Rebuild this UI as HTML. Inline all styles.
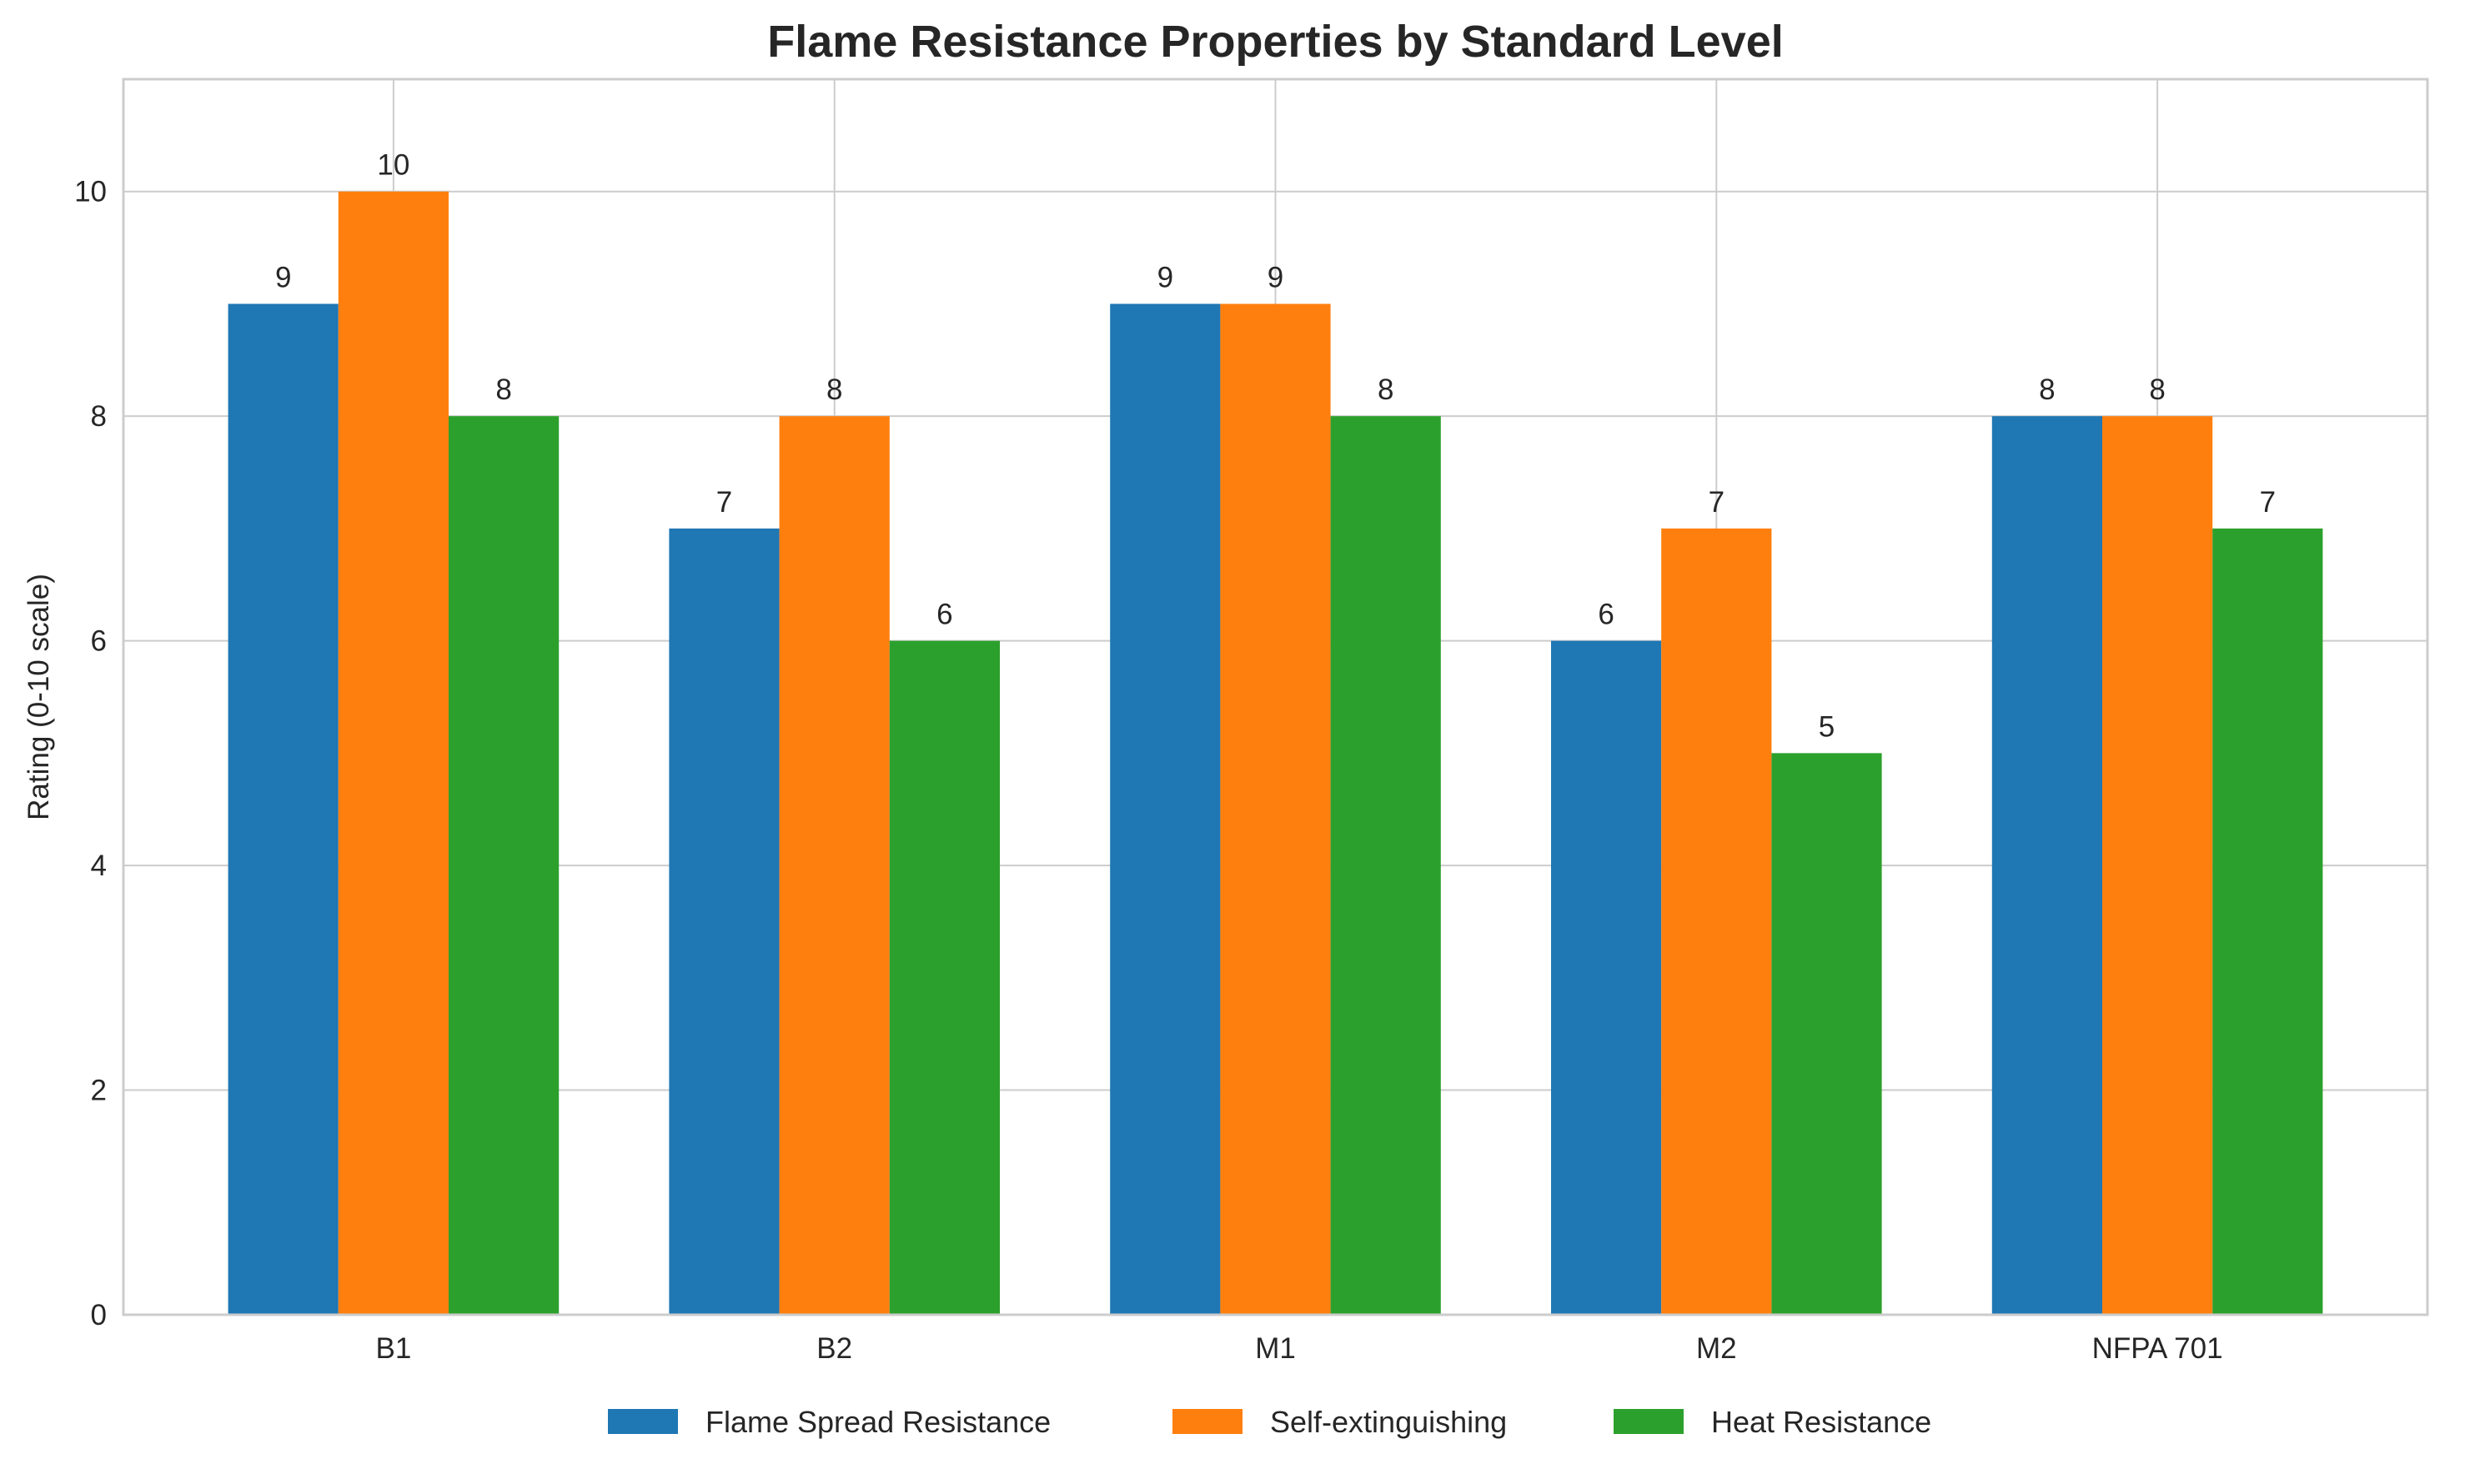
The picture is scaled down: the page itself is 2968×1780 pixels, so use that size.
<!DOCTYPE html>
<html><head><meta charset="utf-8"><style>body{margin:0;background:#fff}svg text{font-family:"Liberation Sans",sans-serif;fill:#262626}</style></head>
<body>
<svg id="c" width="2968" height="1775" xmlns="http://www.w3.org/2000/svg"></svg>
<script>
const categories=["B1","B2","M1","M2","NFPA 701"];
const flameSpread=[9,7,9,6,8];
const selfExt=[10,8,9,7,8];
const heatRes=[8,6,8,5,7];
const yTicks=[0,2,4,6,8,10];
const seriesNames=["Flame Spread Resistance","Self-extinguishing","Heat Resistance"];
const colors=["#1f77b4","#ff7f0e","#2ca02c"];
const L=148,R=2911,T=95,B=1577,xmin=-0.6125,xmax=4.6125,ymax=11;
const sx=v=>L+(v-xmin)/(xmax-xmin)*(R-L);
const sy=v=>B-v/ymax*(B-T);
const svg=document.getElementById('c');const NS="http://www.w3.org/2000/svg";
function mk(t,a,p){const e=document.createElementNS(NS,t);for(const k in a)e.setAttribute(k,a[k]);(p||svg).appendChild(e);return e;}
yTicks.forEach(v=>{const l=mk('line',{x1:L,x2:R,y1:sy(v),y2:sy(v),stroke:'#cccccc','stroke-width':2});


const t=mk('text',{x:L-20,y:sy(v)+12,'text-anchor':'end','font-size':35});t.textContent=v;

});
categories.forEach((c,i)=>{const l=mk('line',{x1:sx(i),x2:sx(i),y1:T,y2:B,stroke:'#cccccc','stroke-width':2});


const t=mk('text',{x:sx(i),y:B+52,'text-anchor':'middle','font-size':35});t.textContent=c;

});
const series=[flameSpread,selfExt,heatRes];const w=0.25;
series.forEach((s,j)=>{s.forEach((v,i)=>{const x0=sx(i+(j-1)*w-w/2),x1=sx(i+(j-1)*w+w/2);
const r=mk('rect',{x:x0,y:sy(v),width:x1-x0,height:sy(0)-sy(v),fill:colors[j]});


const t=mk('text',{x:(x0+x1)/2,y:sy(v)-20,'text-anchor':'middle','font-size':35});t.textContent=v;

});});
const fr=mk('rect',{x:L,y:T,width:R-L,height:B-T,fill:'none',stroke:'#cccccc','stroke-width':3});


const ti=mk('text',{x:(L+R)/2,y:68,'text-anchor':'middle','font-size':54,'font-weight':'bold'});ti.textContent="Flame Resistance Properties by Standard Level";


const yx=58,yc=(T+B)/2;
const yl=mk('text',{x:yx,y:yc,'text-anchor':'middle','font-size':35,transform:`rotate(-90 ${yx} ${yc})`});yl.textContent="Rating (0-10 scale)";


const lx=[729,1406,1935];
seriesNames.forEach((n,j)=>{const g=mk('g',{});


mk('rect',{x:lx[j],y:1690,width:84,height:30,fill:colors[j]},g);
const t=mk('text',{x:lx[j]+117,y:1718,'font-size':36},g);t.textContent=n;});
</script>
</body></html>
